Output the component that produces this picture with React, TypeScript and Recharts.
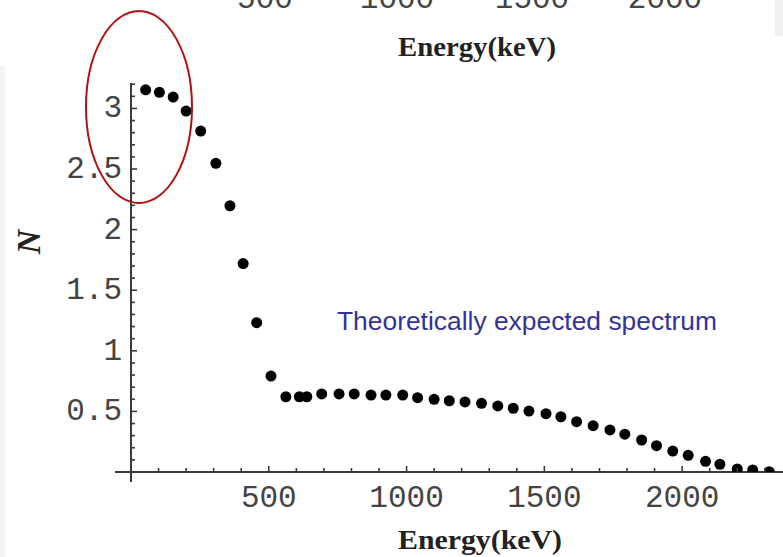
import React from 'react';
import { ScatterChart, Scatter, XAxis, YAxis, ReferenceLine } from 'recharts';

// Energy (keV) of each point
const energies = [53, 103, 153, 200, 253, 308, 359, 407, 456, 508, 562, 611, 638, 692, 755, 810, 871, 925, 986, 1040, 1100, 1155, 1212, 1272, 1331, 1387, 1444, 1506, 1560, 1617, 1677, 1738, 1792, 1853, 1907, 1966, 2022, 2085, 2137, 2200, 2256, 2316];
// N values
const counts = [3.154, 3.133, 3.094, 2.978, 2.813, 2.547, 2.197, 1.72, 1.232, 0.792, 0.621, 0.621, 0.621, 0.644, 0.644, 0.644, 0.635, 0.635, 0.635, 0.613, 0.6, 0.588, 0.578, 0.567, 0.545, 0.526, 0.503, 0.481, 0.456, 0.415, 0.382, 0.347, 0.312, 0.264, 0.217, 0.173, 0.138, 0.088, 0.064, 0.025, 0.017, 0.002];

const xTicks = [100, 200, 300, 400, 500, 600, 700, 800, 900, 1000, 1100, 1200, 1300, 1400, 1500, 1600, 1700, 1800, 1900, 2000, 2100, 2200, 2300];
const xLabels = [500, 1000, 1500, 2000];
const yTicks = [0.1, 0.2, 0.3, 0.4, 0.5, 0.6, 0.7, 0.8, 0.9, 1, 1.1, 1.2, 1.3, 1.4, 1.5, 1.6, 1.7, 1.8, 1.9, 2, 2.1, 2.2, 2.3, 2.4, 2.5, 2.6, 2.7, 2.8, 2.9, 3, 3.1, 3.2];
const yLabels = [0.5, 1, 1.5, 2, 2.5, 3];
const topFragmentLabels = ['500', '1000', '1500', '2000'];

const data = energies.map((e, i) => ({ e, n: counts[i] }));

const AXIS = '#3a3a3a';
const TICKTEXT = '#444';
const MONO = '"Liberation Mono", "DejaVu Sans Mono", monospace';
const SERIF = '"Liberation Serif", "DejaVu Serif", serif';

const isLabel = (arr: number[], v: number) => arr.some((a) => Math.abs(a - v) < 1e-6);

const XTick = (props: any) => {
  const { x, y, payload } = props;
  const major = isLabel(xLabels, payload.value);
  return (
    <g>
      <line x1={x} y1={y} x2={x} y2={y - (major ? 6 : 4)} stroke={AXIS} strokeWidth={1.6} />
      {major && (
        <text x={x} y={y + 35} textAnchor="middle" fontFamily={MONO} fontSize={31} fill={TICKTEXT}>
          {payload.value}
        </text>
      )}
    </g>
  );
};

const YTick = (props: any) => {
  const { x, y, payload } = props;
  const major = isLabel(yLabels, payload.value);
  return (
    <g>
      <line x1={x} y1={y} x2={x + (major ? 6 : 4)} y2={y} stroke={AXIS} strokeWidth={1.6} />
      {major && (
        <text x={x - 9} y={y + 9} textAnchor="end" fontFamily={MONO} fontSize={31} fill={TICKTEXT}>
          {String(payload.value)}
        </text>
      )}
    </g>
  );
};

const Dot = (props: any) => <circle cx={props.cx} cy={props.cy} r={5.5} fill="#000" />;

export default function App() {
  return (
    <div style={{ position: 'absolute', left: 0, top: 0, width: 783, height: 557, background: '#fff', overflow: 'hidden' }}>
      <div style={{ position: 'absolute', left: 775, top: 0, width: 8, height: 36, background: '#f1f1f3' }} />
      <div style={{ position: 'absolute', left: 0, top: 66, width: 5, height: 491, background: '#f4f4f6' }} />
      <div style={{ position: 'absolute', left: 0, top: 0 }}>
        <ScatterChart width={783} height={557} margin={{ top: 83, right: 0, bottom: 84, left: 130 }}>
          <XAxis
            type="number"
            dataKey="e"
            domain={[0, 2366]}
            allowDataOverflow
            ticks={xTicks}
            interval={0}
            height={1}
            axisLine={false}
            tickLine={false}
            tickSize={0}
            tickMargin={0}
            tick={(p: any) => <XTick {...p} />}
          />
          <YAxis
            type="number"
            dataKey="n"
            domain={[0, 3.21]}
            allowDataOverflow
            ticks={yTicks}
            interval={0}
            width={1}
            axisLine={false}
            tickLine={false}
            tickSize={0}
            tickMargin={0}
            tick={(p: any) => <YTick {...p} />}
          />
          <ReferenceLine
            segment={[{ x: -58, y: 0 }, { x: 2366, y: 0 }]}
            ifOverflow="visible"
            stroke={AXIS}
            strokeWidth={2}
          />
          <ReferenceLine
            segment={[{ x: 0, y: -0.083 }, { x: 0, y: 3.21 }]}
            ifOverflow="visible"
            stroke={AXIS}
            strokeWidth={2}
          />
          <Scatter data={data} fill="#000" shape={(p: any) => <Dot {...p} />} isAnimationActive={false} />
        </ScatterChart>
      </div>
      <svg width={783} height={557} style={{ position: 'absolute', left: 0, top: 0, pointerEvents: 'none' }}>
        {topFragmentLabels.map((t, i) => (
          <text key={t} x={[265, 397, 532, 665][i]} y={8} textAnchor="middle" fontFamily={MONO} fontSize={31} fill={TICKTEXT}>
            {t}
          </text>
        ))}
        <text x={477} y={56} textAnchor="middle" fontFamily={SERIF} fontWeight="bold" fontSize={28} fill="#222" textLength={158} lengthAdjust="spacingAndGlyphs">
          Energy(keV)
        </text>
        <text x={480} y={549} textAnchor="middle" fontFamily={SERIF} fontWeight="bold" fontSize={28} fill="#222" textLength={164} lengthAdjust="spacingAndGlyphs">
          Energy(keV)
        </text>
        <text transform="translate(40,242) rotate(-90)" textAnchor="middle" fontFamily={SERIF} fontStyle="italic" fontWeight="bold" fontSize={34} fill="#222">
          N
        </text>
        <text x={337} y={330} fontFamily='"Liberation Sans", Arial, sans-serif' fontSize={26.4} fill="#333399">
          Theoretically expected spectrum
        </text>
        <ellipse cx={139} cy={107} rx={53} ry={96} fill="none" stroke="#b3100f" strokeWidth={2} />
      </svg>
    </div>
  );
}
